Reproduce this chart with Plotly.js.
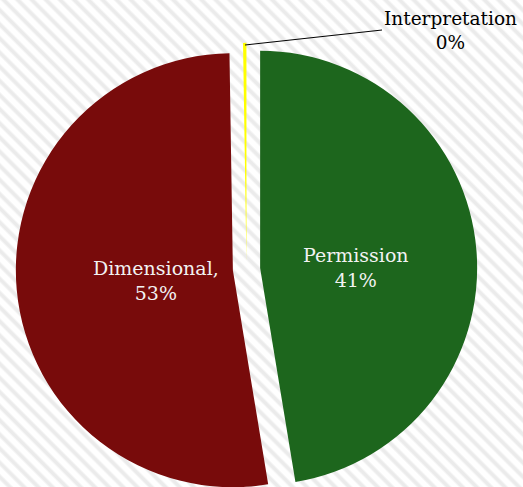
<!DOCTYPE html>
<html><head><meta charset="utf-8">
<script src="https://cdn.plot.ly/plotly-3.0.1.min.js"></script>
<style>
html,body{margin:0;padding:0;overflow:hidden;width:523px;height:487px;}
body{background: repeating-linear-gradient(45deg, #ffffff 0px, #ffffff 4px, #ebebeb 6px, #ebebeb 8px, #ffffff 10px);}
#chart{width:523px;height:560px;}
</style></head><body><div id="chart"></div>
<script>
const labels = ['Permission', 'Dimensional', 'Interpretation'];
const values = [47.4, 52.35, 0.25];
const shownPct = ['41%', '53%', '0%'];
const separators = ['', ',', ''];
const colors = ['#1d661d', '#780b0b', '#ffff00'];
const pulls = [0.063, 0.063, 0.042];

const W = 523, H = 560;
const labelText = labels.map((l, i) => l + separators[i] + '<br>' + shownPct[i]);

const trace = {
  type: 'pie',
  labels: labels,
  values: values,
  textinfo: 'none',
  hoverinfo: 'label+value',
  sort: false,
  direction: 'clockwise',
  rotation: 0,
  pull: pulls,
  marker: {colors: colors, line: {width: 0}},
  domain: {x: [15.8 / W, 477.2 / W], y: [(H - 499.7) / H, (H - 38.3) / H]},
  showlegend: false
};

const labelFont = {family: 'DejaVu Serif', size: 19, color: '#f2f2f2'};
// label placement (pixels from top-left) for the inside labels
const labelPos = [[356, 267], [156, 280]];

const annotations = labelPos.map((p, i) => ({
  xref: 'paper', yref: 'paper',
  x: p[0] / W, y: (H - p[1]) / H,
  xanchor: 'center', yanchor: 'middle',
  showarrow: false, align: 'center',
  text: labelText[i], font: labelFont
}));
annotations.push({
  xref: 'paper', yref: 'paper',
  x: 245 / W, y: (H - 45) / H,
  ax: 137, ay: -15,
  xanchor: 'left', yanchor: 'middle',
  showarrow: true, arrowhead: 0, arrowwidth: 1, arrowcolor: '#000',
  text: labelText[2],
  align: 'center',
  font: {family: 'DejaVu Serif', size: 18.5, color: '#000'}
});

const layout = {
  width: W, height: H,
  margin: {l: 0, r: 0, t: 0, b: 0},
  paper_bgcolor: 'rgba(0,0,0,0)',
  plot_bgcolor: 'rgba(0,0,0,0)',
  showlegend: false,
  annotations: annotations
};

Plotly.newPlot('chart', [trace], layout, {displayModeBar: false, staticPlot: true});
</script></body></html>
